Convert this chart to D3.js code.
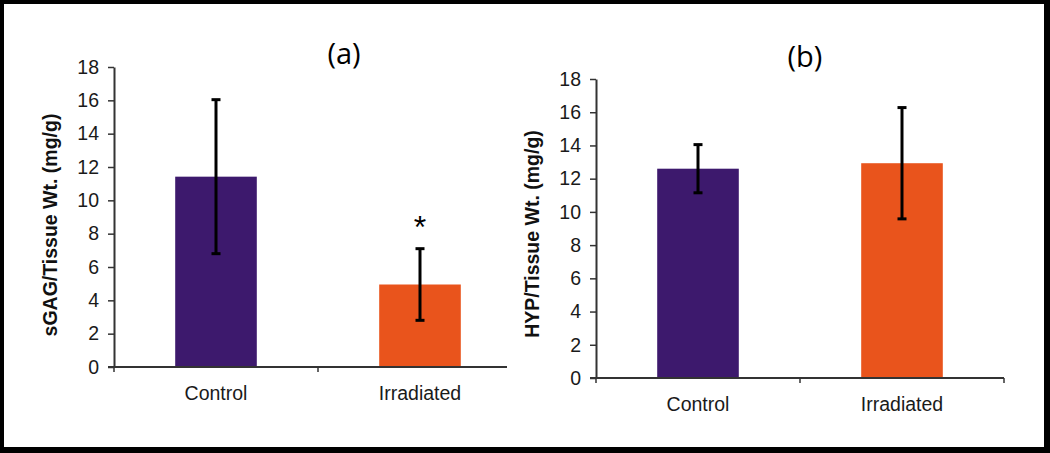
<!DOCTYPE html>
<html><head><meta charset="utf-8">
<script src="https://cdn.jsdelivr.net/npm/d3@7"></script>
<style>body{margin:0;background:#fff}svg{display:block}</style>
</head><body>
<svg id="c" width="1050" height="453"></svg>
<script>
const categories = ["Control", "Irradiated"];
const sgagMeans = [11.42, 4.95];
const sgagErr = [4.62, 2.15];
const hypMeans = [12.6, 12.93];
const hypErr = [1.45, 3.35];
const yTicks = [0, 2, 4, 6, 8, 10, 12, 14, 16, 18];
const barColors = ["#3d196d", "#e9541c"];
const significance = ["", "*"];

const svg = d3.select("#c");
svg.append("rect").attr("width", 1050).attr("height", 453).attr("fill", "#000");
svg.append("rect").attr("x", 4).attr("y", 4).attr("width", 1040).attr("height", 443).attr("fill", "#fff");

function panel(o) {
  const g = svg.append("g");
  const xb = d3.scaleBand().domain(categories).range([o.x0, o.x1]);
  const y = d3.scaleLinear().domain([0, 18]).range([o.yb, o.yt]);
  const cx = i => xb(categories[i]) + xb.bandwidth() / 2;

  // bars
  g.selectAll("rect.bar").data(o.means).join("rect")
    .attr("x", (d, i) => cx(i) - xb.bandwidth() * 0.2)
    .attr("width", xb.bandwidth() * 0.4)
    .attr("y", d => y(d)).attr("height", d => y(0) - y(d))
    .attr("fill", (d, i) => barColors[i]);

  // y axis
  const ay = g.append("g").attr("transform", `translate(${o.x0},0)`)
    .call(d3.axisLeft(y).tickValues(yTicks).tickSize(6).tickSizeOuter(0).tickPadding(9));
  ay.select(".domain").attr("stroke", "#333").attr("stroke-width", 2);
  ay.selectAll(".tick line").attr("stroke", "#333").attr("stroke-width", 1.5);
  ay.selectAll(".tick text").attr("font-family", "Liberation Sans, Arial, sans-serif").attr("font-size", 19.5).attr("fill", "#1a1a1a");

  // x axis
  g.append("line").attr("x1", o.x0 - 6).attr("x2", o.xEnd).attr("y1", y(0)).attr("y2", y(0))
    .attr("stroke", "#333").attr("stroke-width", 2);
  const bounds = [o.x0, xb(categories[1]), o.x1].filter(v => v <= o.xEnd);
  g.selectAll("line.xt").data(bounds).join("line")
    .attr("x1", d => d).attr("x2", d => d).attr("y1", y(0)).attr("y2", y(0) + 5)
    .attr("stroke", "#333").attr("stroke-width", 1.5);
  g.selectAll("text.xl").data(categories).join("text")
    .attr("x", (d, i) => cx(i)).attr("y", y(0) + 33)
    .attr("text-anchor", "middle")
    .attr("font-family", "Liberation Sans, Arial, sans-serif").attr("font-size", 19.5).attr("fill", "#1a1a1a")
    .text(d => d);

  // error bars
  const eg = g.selectAll("g.err").data(o.means).join("g");
  eg.append("line")
    .attr("x1", (d, i) => cx(i)).attr("x2", (d, i) => cx(i))
    .attr("y1", (d, i) => y(d + o.err[i])).attr("y2", (d, i) => y(d - o.err[i]))
    .attr("stroke", "#000").attr("stroke-width", 3);
  [1, -1].forEach(s => {
    eg.append("line")
      .attr("x1", (d, i) => cx(i) - 4.5).attr("x2", (d, i) => cx(i) + 4.5)
      .attr("y1", (d, i) => y(d + s * o.err[i])).attr("y2", (d, i) => y(d + s * o.err[i]))
      .attr("stroke", "#000").attr("stroke-width", 3);
  });

  if (o.sig) {
    g.selectAll("text.sig").data(o.means).join("text")
      .attr("x", (d, i) => cx(i))
      .attr("y", (d, i) => y(d + o.err[i]) - 11)
      .attr("text-anchor", "middle")
      .attr("font-family", "Liberation Sans, Arial, sans-serif").attr("font-size", 32).attr("fill", "#000")
      .text((d, i) => significance[i]);
  }

  // axis title
  g.append("text")
    .attr("transform", `translate(${o.titleX},${o.titleY}) rotate(-90)`)
    .attr("text-anchor", "middle")
    .attr("font-family", "Liberation Sans, Arial, sans-serif").attr("font-weight", "bold")
    .attr("font-size", 19.5).attr("fill", "#111")
    .text(o.ylabel);

  // panel label
  g.append("text").attr("x", o.labX).attr("y", o.labY).attr("text-anchor", "middle")
    .attr("font-family", "Open Sans, Lato, sans-serif").attr("font-size", 29).attr("fill", "#000")
    .text(o.label);
}

panel({ x0: 114, x1: 522, xEnd: 507, yb: 367, yt: 67, means: sgagMeans, err: sgagErr, sig: true,
  titleX: 57, titleY: 225, ylabel: "sGAG/Tissue Wt. (mg/g)", label: "(a)", labX: 344, labY: 64 });
panel({ x0: 596, x1: 1004, xEnd: 1004, yb: 378, yt: 79, means: hypMeans, err: hypErr, sig: false,
  titleX: 539, titleY: 234, ylabel: "HYP/Tissue Wt. (mg/g)", label: "(b)", labX: 805, labY: 67 });
</script>
</body></html>
